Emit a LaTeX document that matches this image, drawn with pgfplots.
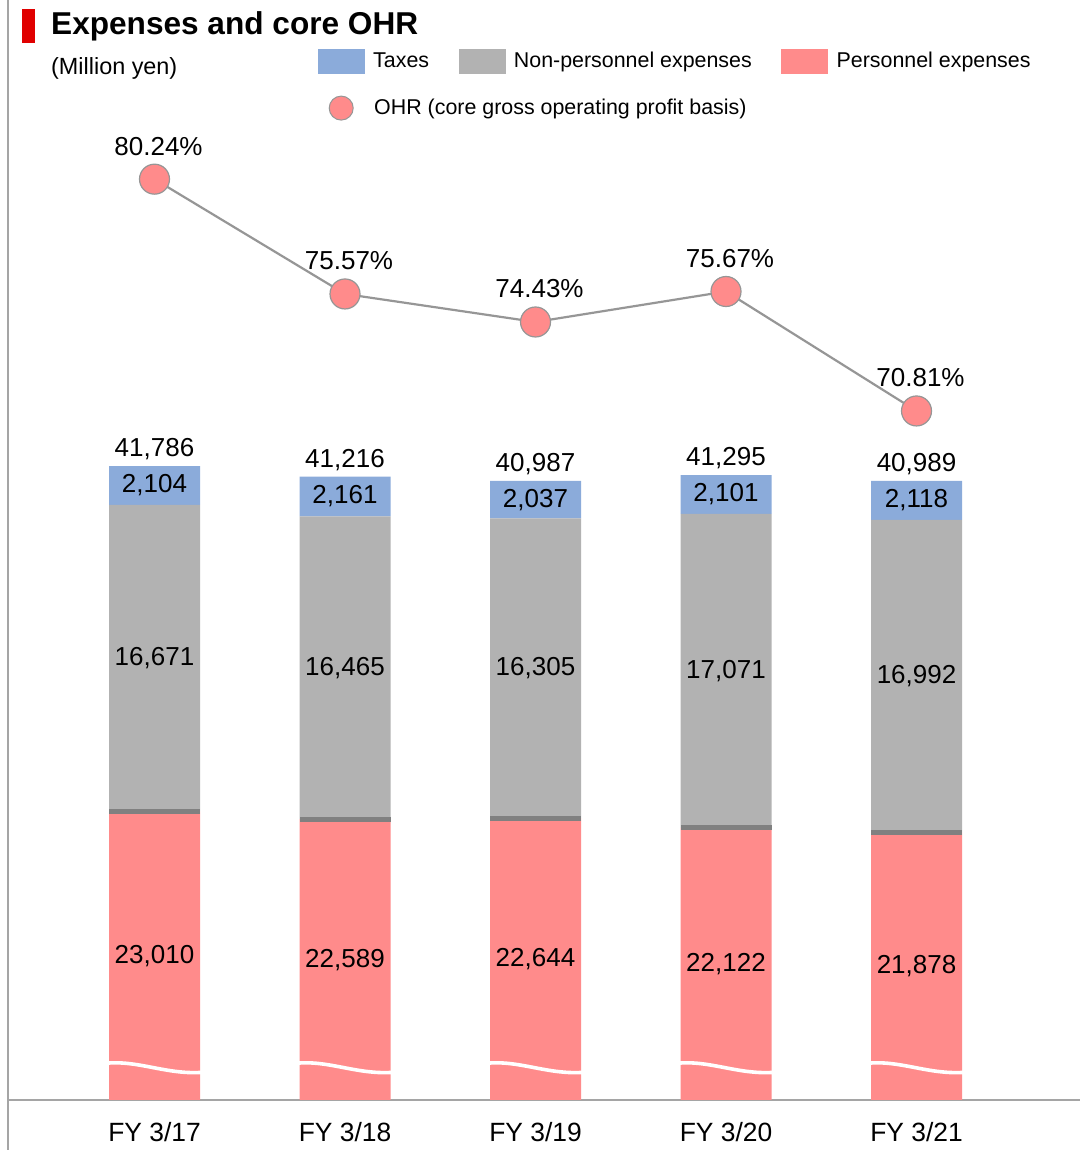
\documentclass[border=0pt]{standalone}
\usepackage{fontspec}
\setmainfont{Liberation Sans}
\usepackage{pgfplots}
\pgfplotsset{compat=1.18}
\usepackage{pgfplotstable}

\definecolor{persc}{RGB}{255,139,139}
\definecolor{nonc}{RGB}{178,178,178}
\definecolor{taxc}{RGB}{139,171,218}
\definecolor{boundc}{RGB}{128,128,128}
\definecolor{linec}{RGB}{150,150,150}
\definecolor{axisc}{RGB}{165,165,165}
\definecolor{titlered}{RGB}{224,0,0}

\pgfplotstableread{
x pers non tax total ohr
0 23010 16671 2104 41786 80.24
1 22589 16465 2161 41216 75.57
2 22644 16305 2037 40987 74.43
3 22122 17071 2101 41295 75.67
4 21878 16992 2118 40989 70.81
}\datatable

\tikzset{lblfont/.style={font=\fontsize{13pt}{15pt}\selectfont}}
\pgfplotsset{
  mybox/.style={at={(4pt,25pt)}, anchor=south west, scale only axis,
    width=536pt, height=550pt, xmin=-0.76903, xmax=4.85827},
}

\begin{document}
\begin{tikzpicture}
\useasboundingbox (0,0) rectangle (540pt,575pt);

% bars
\begin{axis}[mybox,
  ymin=7320, ymax=67135,
  ybar stacked, bar width=45.5pt,
  axis x line=bottom, axis y line=none,
  x axis line style={-, draw=axisc, line width=1.2pt},
  xtick={0,1,2,3,4},
  xticklabels={FY 3/17,FY 3/18,FY 3/19,FY 3/20,FY 3/21},
  major tick length=0pt, xtick style={draw=none},
  xticklabel style={anchor=base, yshift=-20.5pt, font=\fontsize{13.2pt}{15pt}\selectfont},
]
\addplot[fill=persc, draw=none] table[x=x,y=pers]{\datatable};
\addplot[fill=nonc, draw=none] table[x=x,y=non]{\datatable};
\addplot[fill=taxc, draw=none] table[x=x,y=tax]{\datatable};
\end{axis}

% axis-break waves
\foreach \i in {0,...,4}{
  \pgfmathsetmacro{\cx}{77.25+95.25*\i}
  \draw[white, line width=1.8pt] (\cx pt-25pt,43.3pt) .. controls (\cx pt-8pt,45.2pt) and (\cx pt+6pt,37.3pt) .. (\cx pt+25pt,38.9pt);
}

% left frame line
\draw[draw=axisc, line width=1pt] (4pt,0pt) -- (4pt,575pt);

% labels and boundary lines
\begin{axis}[mybox,
  ymin=7320, ymax=67135, hide axis, clip=false,
  /pgf/number format/assume math mode=true,
  /pgf/number format/fixed, /pgf/number format/precision=0,
  /pgf/number format/1000 sep={,},
]
\addplot[only marks, mark=-, mark size=22.75pt, mark options={draw=boundc, line width=2.4pt}]
  table[x=x,y=pers]{\datatable};
\addplot[draw=none, mark=none, nodes near coords, point meta=explicit,
  nodes near coords align={anchor=center}, every node near coord/.append style={lblfont, inner sep=0pt}]
  table[x=x, y expr={(\thisrow{pers}+7320)/2}, meta=pers]{\datatable};
\addplot[draw=none, mark=none, nodes near coords, point meta=explicit,
  nodes near coords align={anchor=center}, every node near coord/.append style={lblfont, inner sep=0pt}]
  table[x=x, y expr={\thisrow{pers}+\thisrow{non}/2}, meta=non]{\datatable};
\addplot[draw=none, mark=none, nodes near coords, point meta=explicit,
  nodes near coords align={anchor=center}, every node near coord/.append style={lblfont, inner sep=0pt}]
  table[x=x, y expr={\thisrow{pers}+\thisrow{non}+\thisrow{tax}/2}, meta=tax]{\datatable};
\addplot[draw=none, mark=none, nodes near coords, point meta=explicit,
  nodes near coords align={anchor=base}, every node near coord/.append style={lblfont, inner sep=0pt, yshift=4.6pt}]
  table[x=x, y=total, meta=total]{\datatable};
\end{axis}

% OHR line and legend
\begin{axis}[mybox,
  ymin=42.778, ymax=87.530, hide axis, clip=false,
  /pgf/number format/assume math mode=true,
  legend columns=3, legend cell align=left,
  legend style={at={(0.2890,0.95545)}, anchor=north west, draw=none, fill=none,
    inner sep=0pt, outer sep=0pt,
    nodes={inner sep=0pt, font=\fontsize{10.7pt}{12pt}\selectfont},
    /tikz/every odd column/.append style={column sep=4.3pt},
    /tikz/every even column/.append style={column sep=14.7pt},
    row sep=10.9pt},
]
\addlegendimage{legend image code/.code={\fill[taxc] (0pt,-6pt) rectangle (23pt,6pt);}}
\addlegendentry{Taxes}
\addlegendimage{legend image code/.code={\fill[nonc] (0pt,-6pt) rectangle (23pt,6pt);}}
\addlegendentry{Non-personnel expenses}
\addlegendimage{legend image code/.code={\fill[persc] (0pt,-6pt) rectangle (23pt,6pt);}}
\addlegendentry{Personnel expenses}
\addplot[draw=linec, line width=1.1pt, mark=*, mark size=7.5pt,
  mark options={fill=persc, draw=linec, line width=0.6pt},
  nodes near coords={\pgfmathprintnumber[fixed,fixed zerofill,precision=2]{\pgfplotspointmeta}\%},
  point meta=explicit, nodes near coords align={anchor=base},
  every node near coord/.append style={lblfont, inner sep=0pt, yshift=12pt, xshift=2pt},
  legend image code/.code={\path[draw=none, fill=none] (0pt,-6pt) rectangle (23pt,6pt);
    \draw[fill=persc, draw=linec, line width=0.5pt] (11.5pt,0pt) circle (6pt);}]
  table[x=x, y=ohr, meta=ohr]{\datatable};
\addlegendentry{\rlap{OHR (core gross operating profit basis)}}
\end{axis}

% title
\fill[titlered] (10.75pt,553.65pt) rectangle (17.65pt,570.35pt);
\node[anchor=base west, inner sep=0pt, font=\fontsize{15.8pt}{18pt}\selectfont\bfseries] at (25.4pt,557.85pt) {Expenses and core OHR};
\node[anchor=base west, inner sep=0pt, font=\fontsize{11.7pt}{13pt}\selectfont] at (25.4pt,537.5pt) {(Million yen)};
\end{tikzpicture}
\end{document}
